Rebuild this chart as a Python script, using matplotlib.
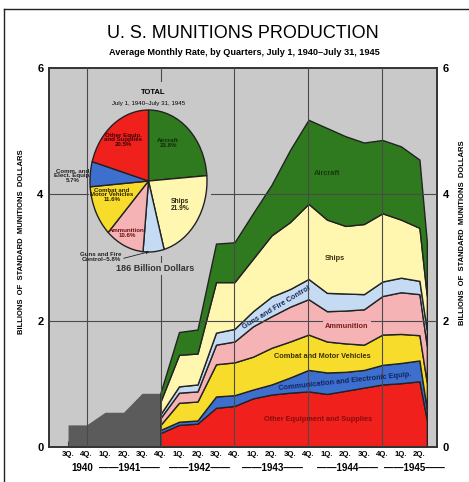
import numpy as np
import matplotlib.pyplot as plt
from matplotlib.lines import Line2D

W, H = 469, 482
plt.rcParams['font.family'] = ['Liberation Sans', 'DejaVu Sans']

quarter_labels = ['3Q.', '4Q.', '1Q.', '2Q.', '3Q.', '4Q.', '1Q.', '2Q.', '3Q.', '4Q.',
                  '1Q.', '2Q.', '3Q.', '4Q.', '1Q.', '2Q.', '3Q.', '4Q.', '1Q.', '2Q.']
year_labels = ['1940', '\u2014\u20141941\u2014\u2014', '\u2014\u20141942\u2014\u2014',
               '\u2014\u20141943\u2014\u2014', '\u2014\u20141944\u2014\u2014', '\u2014\u20141945\u2014\u2014']
year_pos = [0.75, 3.3, 7.1, 11.05, 15.1, 18.75]

# total only, 3Q 1940 - 4Q 1941 (billions per month)
early_q = [0, 1, 2, 3, 4, 5]
early_total = [0.35, 0.35, 0.55, 0.55, 0.85, 0.85]

# by category, 4Q 1941 - 2Q 1945 and July 1945
split_q = [5, 6, 7, 8, 9, 10, 11, 12, 13, 14, 15, 16, 17, 18, 19, 19.4]
other_equip = [0.22, 0.35, 0.37, 0.62, 0.65, 0.77, 0.83, 0.86, 0.88, 0.84, 0.89, 0.94, 0.99, 1.01, 1.04, 0.43]
comm_equip  = [0.05, 0.05, 0.05, 0.18, 0.17, 0.14, 0.16, 0.24, 0.34, 0.34, 0.30, 0.28, 0.31, 0.32, 0.33, 0.17]
combat_veh  = [0.08, 0.30, 0.30, 0.51, 0.52, 0.52, 0.58, 0.57, 0.56, 0.49, 0.45, 0.40, 0.48, 0.46, 0.40, 0.42]
ammunition  = [0.11, 0.16, 0.16, 0.31, 0.33, 0.48, 0.50, 0.55, 0.56, 0.48, 0.52, 0.56, 0.61, 0.66, 0.65, 0.58]
guns_fire   = [0.06, 0.10, 0.11, 0.19, 0.20, 0.24, 0.31, 0.28, 0.32, 0.29, 0.27, 0.24, 0.23, 0.23, 0.21, 0.25]
ships       = [0.20, 0.50, 0.49, 0.80, 0.74, 0.83, 0.97, 1.06, 1.19, 1.16, 1.07, 1.11, 1.08, 0.92, 0.84, 0.54]
aircraft    = [0.14, 0.36, 0.38, 0.61, 0.63, 0.72, 0.80, 1.14, 1.33, 1.45, 1.42, 1.29, 1.16, 1.16, 1.08, 0.86]

# pie: share of total, clockwise from top
pie_share = [23.8, 21.9, 5.8, 10.6, 11.6, 5.7, 20.6]

c_air, c_ship, c_guns, c_ammo = '#2f7a1e', '#fff6b0', '#c4dbf3', '#f6b3b6'
c_combat, c_comm, c_other = '#f8dc2c', '#3d6fcf', '#f0201c'
bg = '#c9c9c9'
line_c = '#222222'

fig = plt.figure(figsize=(W / 100, H / 100), dpi=100)
fig.patch.set_facecolor('white')

ax = fig.add_axes([49 / W, 1 - 447 / H, 388 / W, 379 / H])
ax.set_facecolor(bg)
ax.set_xlim(-1.03, 19.95)
ax.set_ylim(0, 6)

ax.fill_between(early_q, early_total, color='#5b5b5b', lw=0, zorder=2)

layers = [other_equip, comm_equip, combat_veh, ammunition, guns_fire, ships, aircraft]
colors = [c_other, c_comm, c_combat, c_ammo, c_guns, c_ship, c_air]
base = np.zeros(len(split_q))
for vals, col in zip(layers, colors):
    top = base + np.array(vals)
    ax.fill_between(split_q, base, top, facecolor=col, edgecolor=line_c, lw=1.0, zorder=2)
    base = top

# grid drawn over the areas like the original
for y in [2, 4]:
    ax.axhline(y, color='#4a4a4a', lw=0.8, zorder=4)
for q in [1, 5, 9, 13, 17]:
    ax.axvline(q, color='#4a4a4a', lw=0.8, zorder=4)

ax.set_xticks(range(len(quarter_labels)))
ax.set_xticklabels(quarter_labels, fontsize=5.6, fontweight='bold')
ax.tick_params(axis='x', direction='in', length=4, width=0.8, color='#333333', pad=3)
ax.set_yticks([0, 2, 4, 6])
ax.set_yticklabels(['0', '2', '4', '6'], fontsize=8, fontweight='bold')
ax.tick_params(axis='y', length=0, pad=4, labelright=True)
for s in ax.spines.values():
    s.set_color('#333333')
    s.set_linewidth(1.4)

for yl, q in zip(year_labels, year_pos):
    ax.text(q, -0.056, yl, transform=ax.get_xaxis_transform(), ha='center', va='center',
            fontsize=7, fontweight='bold')

# labels on the areas
lab = dict(ha='center', va='center', fontsize=5.3, fontweight='bold', zorder=6)
ax.text(14.0, 4.33, 'Aircraft', color='#173a0c', **lab)
ax.text(14.43, 2.98, 'Ships', color='#3a3410', **lab)
ax.text(11.3, 2.2, 'Guns and Fire Control', rotation=31, color='#1c2c5a', **lab)
ax.text(15.08, 1.91, 'Ammunition', color='#7a1a1a',
        bbox=dict(facecolor=c_ammo, edgecolor='none', pad=1.5), **lab)
ax.text(13.73, 1.43, 'Combat and Motor Vehicles', color='#3a3000', **lab)
ax.text(14.97, 1.04, 'Communication and Electronic Equip.', rotation=6, color='#14245e', **lab)
ax.text(13.5, 0.43, 'Other Equipment and Supplies', color='#8b0b0b', **lab)

# pie inset
cx, cy, rx, ry = 148.5, 181, 58.5, 71
pax = fig.add_axes([89 / W, 1 - 256 / H, 122 / W, 174 / H])
pax.pie(pie_share, colors=[c_air, c_ship, c_guns, c_ammo, c_combat, c_comm, c_other],
        startangle=90, counterclock=False,
        wedgeprops=dict(edgecolor=line_c, linewidth=1.0))
pax.set_aspect('auto')
pax.set_xlim((89 - cx) / rx, (211 - cx) / rx)
pax.set_ylim((cy - 256) / ry, (cy - 82) / ry)
pax.set_frame_on(True)
pax.set_facecolor(bg)
for s in pax.spines.values():
    s.set_visible(False)


def ptxt(px, py, s, **kw):
    pax.text((px - cx) / rx, (cy - py) / ry, s, ha='center', va='center',
             linespacing=0.95, clip_on=False, **kw)


ptxt(153, 92, 'TOTAL', fontsize=5.5, fontweight='bold')
ptxt(149, 103, 'July 1, 1940\u2013July 31, 1945', fontsize=4.4)
ptxt(123, 140, 'Other Equip.\nand Supplies\n20.5%', fontsize=4.4, fontweight='bold', color='#3a0505')
ptxt(168, 143, 'Aircraft\n23.8%', fontsize=4.4, fontweight='bold', color='#0f2a08')
ptxt(180, 205, 'Ships\n21.9%', fontsize=4.8, fontweight='bold', color='#2a2a10')
ptxt(112, 195, 'Combat and\nMotor Vehicles\n11.6%', fontsize=4.4, fontweight='bold', color='#2a2000')
ptxt(127, 233, 'Ammunition\n10.6%', fontsize=4.4, fontweight='bold', color='#6a1010')
ptxt(73, 176, 'Comm. and\nElect. Equip.\n5.7%', fontsize=4.4, fontweight='bold', color='#222222')
ptxt(101, 257, 'Guns and Fire\nControl\u20135.8%', fontsize=4.4, fontweight='bold', color='#222222')
pax.annotate('', xy=((152 - cx) / rx, (cy - 251) / ry), xytext=((121 - cx) / rx, (cy - 259) / ry),
             arrowprops=dict(arrowstyle='-|>', color='#222222', lw=0.6, mutation_scale=4),
             annotation_clip=False)
ptxt(155, 269, '186 Billion Dollars', fontsize=6.5, fontweight='bold', color='#333333',
     bbox=dict(facecolor=bg, edgecolor='none', pad=1))

# titles and axis labels
fig.text(243 / W, 1 - 34 / H, 'U. S. MUNITIONS PRODUCTION', ha='center', va='center', fontsize=13)
fig.text(244 / W, 1 - 52 / H, 'Average Monthly Rate, by Quarters, July 1, 1940\u2013July 31, 1945',
         ha='center', va='center', fontsize=6.6, fontweight='bold')
fig.text(22 / W, 1 - 242 / H, 'BILLIONS  OF  STANDARD  MUNITIONS  DOLLARS', rotation=90,
         ha='center', va='center', fontsize=5.5, fontweight='bold')
fig.text(462 / W, 1 - 233 / H, 'BILLIONS  OF  STANDARD  MUNITIONS  DOLLARS', rotation=90,
         ha='center', va='center', fontsize=5.5, fontweight='bold')

# frame of the page
fig.add_artist(Line2D([4 / W, 4 / W], [0, 1 - 9 / H], color='#222222', lw=1.0))
fig.add_artist(Line2D([4 / W, 1], [1 - 9 / H, 1 - 9 / H], color='#222222', lw=1.0))

fig.savefig('out.png', dpi=100)
